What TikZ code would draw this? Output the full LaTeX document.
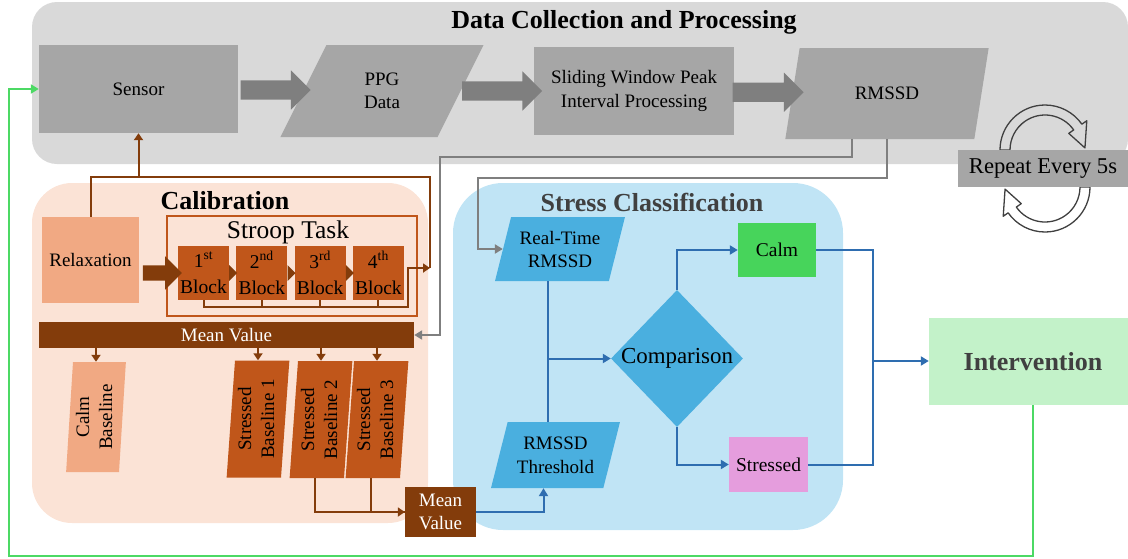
\documentclass[tikz,border=0pt]{standalone}
\usepackage{fontspec}
\setmainfont{Liberation Serif}
\usetikzlibrary{shapes.geometric,shapes.arrows,arrows.meta,calc}
\definecolor{panelgray}{HTML}{D9D9D9}
\definecolor{boxgray}{HTML}{A6A6A6}
\definecolor{arrowgray}{HTML}{7F7F7F}
\definecolor{calpeach}{HTML}{FBE3D6}
\definecolor{lightsalmon}{HTML}{F1A983}
\definecolor{rust}{HTML}{C0561A}
\definecolor{darkbrown}{HTML}{833C0B}
\definecolor{skypanel}{HTML}{C0E4F5}
\definecolor{midblue}{HTML}{4AAFDF}
\definecolor{lineblue}{HTML}{2E6DB0}
\definecolor{calmgreen}{HTML}{47D45B}
\definecolor{stresspink}{HTML}{E59DDD}
\definecolor{intgreen}{HTML}{C3F2C9}
\definecolor{loopgreen}{HTML}{4CD964}
\definecolor{titlegray}{HTML}{404040}

\begin{document}
\begin{tikzpicture}
[every node/.style={inner sep=0pt},
 txt/.style={font=\fontsize{19}{23}\selectfont, align=center},
 heading/.style={font=\bfseries\fontsize{26}{30}\selectfont},
 panel/.style={rectangle, draw=none},
 box/.style={rectangle, txt},
 slanted/.style={trapezium, trapezium stretches=true, txt},
 fatarrow/.style={single arrow, single arrow head extend=10pt, single arrow head indent=0pt, inner xsep=0pt, inner ysep=9.5pt, minimum width=39pt, fill=arrowgray},
 grayline/.style={line width=2pt, color=arrowgray},
 grayarrow/.style={grayline, -{Triangle[width=9pt,length=8pt]}},
 brownline/.style={line width=2pt, color=darkbrown},
 brownarrow/.style={brownline, -{Triangle[width=9pt,length=7pt]}},
 blueline/.style={line width=2pt, color=lineblue},
 bluearrow/.style={blueline, -{Triangle[width=9pt,length=8pt]}},
 greenarrow/.style={line width=2pt, color=loopgreen, -{Triangle[width=9pt,length=8pt]}},
 hollow/.style={draw=titlegray, line width=1.3pt, line join=round}]

\useasboundingbox (0pt,0pt) rectangle (1128pt,-558pt);

% panels
\node (collect) [panel, fill=panelgray, rounded corners=25pt, minimum width=1096pt, minimum height=162pt] at (580pt,-83pt) {};
\node (calib) [panel, fill=calpeach, rounded corners=40pt, minimum width=396pt, minimum height=340pt] at (230pt,-353pt) {};
\node (classif) [panel, fill=skypanel, rounded corners=50pt, minimum width=390pt, minimum height=347pt] at (648pt,-356.5pt) {};
\node (colltitle) [heading] at (624pt,-22pt) {Data Collection and Processing};
\node (caltitle) [heading] at (225pt,-201pt) {Calibration};
\node (classtitle) [heading, text=titlegray] at (652pt,-202pt) {Stress Classification};

% repeat loop
\coordinate (loopup) at (1045pt,-150pt);
\coordinate (loopdown) at (1045pt,-187pt);
\draw[hollow] ($(loopup)+(180:45pt)$) arc[start angle=180, end angle=35, radius=45pt] -- ($(loopup)+(35:51pt)$) -- ($(loopup)+(3:40pt)$) -- ($(loopup)+(35:29pt)$) -- ($(loopup)+(35:35pt)$) arc[start angle=35, end angle=180, radius=35pt] -- cycle;
\draw[hollow] ($(loopdown)+(0:45pt)$) arc[start angle=0, end angle=-145, radius=45pt] -- ($(loopdown)+(-145:51pt)$) -- ($(loopdown)+(-177:40pt)$) -- ($(loopdown)+(-145:29pt)$) -- ($(loopdown)+(-145:35pt)$) arc[start angle=-145, end angle=0, radius=35pt] -- cycle;

% data collection
\node (sensor) [box, fill=boxgray, minimum width=199pt, minimum height=88pt] at (138.5pt,-89pt) {Sensor};
\node (ppg) [slanted, fill=boxgray, trapezium left angle=67.5, trapezium right angle=112.5, minimum width=204pt, minimum height=92pt] at (382pt,-91pt) {PPG\\Data};
\node (sliding) [box, fill=boxgray, font=\fontsize{19}{24}\selectfont, minimum width=200pt, minimum height=88pt] at (634pt,-91pt) {Sliding Window Peak\\Interval Processing};
\node (rmssd) [slanted, fill=boxgray, trapezium left angle=67.5, trapezium right angle=112.5, minimum width=204pt, minimum height=91pt] at (887pt,-93.5pt) {RMSSD};
\node (repeat) [box, fill=boxgray, font=\fontsize{22.6}{26}\selectfont, minimum width=170pt, minimum height=37pt] at (1043pt,-168.5pt) {Repeat Every 5s};

% calibration
\node (relax) [box, fill=lightsalmon, minimum width=97pt, minimum height=86pt] at (90.5pt,-260pt) {Relaxation};
\node (stroop) [draw=rust, line width=2.5pt, minimum width=250pt, minimum height=100pt] at (292pt,-266pt) {};
\node (strooptitle) [font=\fontsize{25.5}{30}\selectfont] at (288pt,-232pt) {Stroop Task};
\foreach \i/\ord [evaluate=\i as \bx using 203.5+58.3*(\i-1)] in {1/st,2/nd,3/rd,4/th}
  \node (b\i) [box, fill=rust, font=\fontsize{19.5}{26}\selectfont, minimum width=51pt, minimum height=54pt] at (\bx pt,-273pt) {\i\textsuperscript{\ord}\\Block};
\foreach \i in {1,2,3}
  \fill[darkbrown] ([yshift=8pt]b\i.east) -- ++(8pt,-8pt) -- ++(-8pt,-8pt) -- cycle;
\node (meanbar) [box, fill=darkbrown, text=white, minimum width=375pt, minimum height=26pt] at (226.5pt,-335pt) {Mean Value};
\node (cb) [slanted, fill=lightsalmon, trapezium left angle=84, trapezium right angle=96, minimum width=59pt, minimum height=110pt] at (96pt,-417pt) {\rotatebox{90}{\begin{tabular}{@{}c@{}}Calm\\Baseline\end{tabular}}};
\node (sb1) [slanted, fill=rust, trapezium left angle=84, trapezium right angle=96, minimum width=59pt, minimum height=117pt] at (258pt,-419pt) {\rotatebox{90}{\begin{tabular}{@{}c@{}}Stressed\\Baseline 1\end{tabular}}};
\node (sb2) [slanted, fill=rust, trapezium left angle=84, trapezium right angle=96, minimum width=59pt, minimum height=117pt] at (321pt,-419.5pt) {\rotatebox{90}{\begin{tabular}{@{}c@{}}Stressed\\Baseline 2\end{tabular}}};
\node (sb3) [slanted, fill=rust, trapezium left angle=84, trapezium right angle=96, minimum width=59pt, minimum height=117pt] at (377pt,-419.5pt) {\rotatebox{90}{\begin{tabular}{@{}c@{}}Stressed\\Baseline 3\end{tabular}}};
\node (meanbox) [box, fill=darkbrown, text=white, minimum width=71pt, minimum height=50pt] at (440.5pt,-512pt) {Mean\\Value};

% stress classification
\node (rtr) [slanted, fill=midblue, trapezium left angle=70, trapezium right angle=110, minimum width=130pt, minimum height=64pt] at (560pt,-249pt) {Real-Time\\RMSSD};
\node (thr) [slanted, fill=midblue, font=\fontsize{19}{24}\selectfont, trapezium left angle=70, trapezium right angle=110, minimum width=129pt, minimum height=66pt] at (555.5pt,-455pt) {RMSSD\\Threshold};
\node (cmp) [diamond, fill=midblue, font=\fontsize{22.9}{26}\selectfont, minimum width=130pt, minimum height=137pt] at (677pt,-358.5pt) {Comparison};
\node (calm) [box, fill=calmgreen, font=\fontsize{19.5}{23}\selectfont, minimum width=78pt, minimum height=54pt] at (777pt,-250pt) {Calm};
\node (stressed) [box, fill=stresspink, font=\fontsize{19.5}{23}\selectfont, minimum width=79pt, minimum height=55pt] at (768.5pt,-464.5pt) {Stressed};
\node (interv) [heading, fill=intgreen, text=titlegray, minimum width=208pt, minimum height=87pt] at (1033pt,-361.5pt) {Intervention};

% gray connectors
\coordinate (grayA) at (440pt,-157pt);
\coordinate (grayB) at (478pt,-178pt);
\draw[grayarrow] ([xshift=-35pt]rmssd.center |- rmssd.south) |- (grayA) |- (meanbar.east);
\draw[grayarrow] (rmssd.center |- rmssd.south) |- (grayB) |- (rtr.west);

% brown connectors
\coordinate (brownTop) at (430pt,-177pt);
\coordinate (brownJoin) at (430pt,-268pt);
\coordinate (brownBot) at (408pt,-307pt);
\draw[brownline] (relax.north) |- (brownTop) -- (brownJoin);
\draw[brownarrow] (sensor.south |- brownTop) -- (sensor.south);
\draw[brownarrow] (b1.south) |- (brownBot) |- (brownJoin);
\foreach \i in {2,3,4}
  \draw[brownline] (b\i.south) -- (b\i.south |- brownBot);
\foreach \n in {cb,sb1,sb2,sb3}
  \draw[brownarrow] (meanbar.south -| \n.north) -- (\n.north);
\draw[brownarrow] ([xshift=-6pt]sb2.south) |- (meanbox.west);
\draw[brownline] ([xshift=-6pt]sb3.south) |- (meanbox.west);

% blue connectors
\coordinate (merge) at (873pt,-361pt);
\draw[blueline] ([xshift=-12pt]rtr.center |- rtr.south) -- ([xshift=-12pt]rtr.center |- thr.north);
\draw[bluearrow] ([xshift=-12pt]rtr.center |- cmp.west) -- (cmp.west);
\draw[bluearrow] (meanbox.east) -| ([xshift=-12pt]thr.center |- thr.south);
\draw[bluearrow] (cmp.north) |- (calm.west);
\draw[bluearrow] (cmp.south) |- (stressed.west);
\draw[blueline] (calm.east) -| (merge);
\draw[blueline] (stressed.east) -| (merge);
\draw[bluearrow] (merge) -- (merge -| interv.west);

% feedback loop
\coordinate (loopcorner) at (9pt,-556pt);
\draw[greenarrow] (interv.south) |- (loopcorner) |- (sensor.west);

% block arrows
\path (sensor.east) -- (ppg.west) node[fatarrow, midway, minimum height=70pt] {};
\path (ppg.east) -- (sliding.west) node[fatarrow, midway, minimum height=80pt] {};
\path (sliding.east) -- (rmssd.west) node[fatarrow, midway, minimum height=71pt] {};
\path (relax.east |- b1.west) -- (b1.west) node[fatarrow, midway, minimum height=39pt, minimum width=33pt, inner ysep=7.5pt, single arrow head extend=9pt, fill=darkbrown] {};
\end{tikzpicture}
\end{document}
